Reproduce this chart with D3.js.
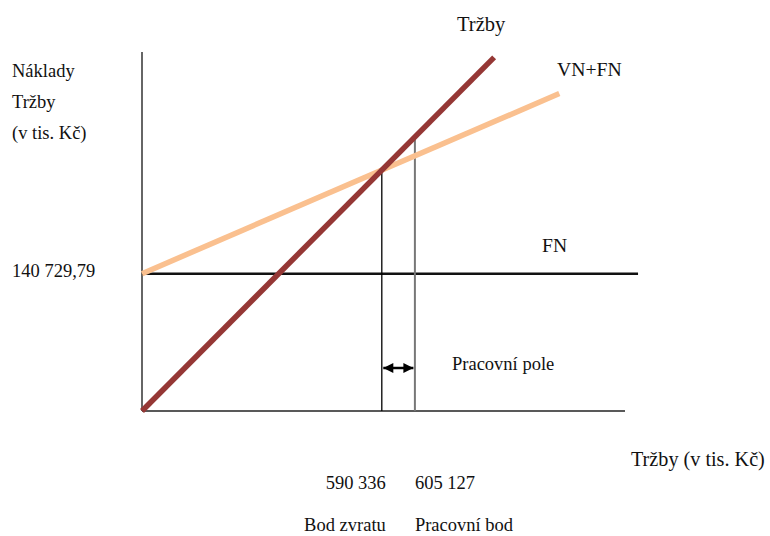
<!DOCTYPE html>
<html>
<head>
<meta charset="utf-8">
<script src="https://cdn.jsdelivr.net/npm/d3@7/dist/d3.min.js"></script>
<style>
  html, body { margin: 0; padding: 0; background: #fff; }
  svg text { font-family: "Liberation Serif", "Times New Roman", serif; font-size: 18.5px; fill: #111; }
</style>
</head>
<body>
<svg id="chart" width="770" height="536"></svg>
<script>
// Break-even diagram (schematic units: output volume on x, money on y)
const fixedCost = 28.3;          // FN level
const unitPrice = 1.0;           // sales per unit of volume
const unitVariableCost = 0.43;   // VN per unit of volume
const workingVolume = 56.5;      // working point (Pracovní bod)

// extents of the drawn lines (in volume units)
const salesExtent = [0, 72.9];
const totalCostExtent = [0, 86.4];
const fixedExtent = [0, 102.7];

// texts
const fixedCostLabel = "140 729,79";
const pointValueLabels = ["590 336", "605 127"];
const pointNameLabels = ["Bod zvratu", "Pracovní bod"];
const yAxisTitle = ["Náklady", "Tržby", "(v tis. Kč)"];
const xAxisTitle = "Tržby (v tis. Kč)";
const lineLabels = { sales: "Tržby", total: "VN+FN", fixed: "FN" };
const rangeLabel = "Pracovní pole";

const breakEven = fixedCost / (unitPrice - unitVariableCost);

const svg = d3.select("#chart");
const x = d3.scaleLinear().domain([0, 100]).range([142, 625]);
const y = d3.scaleLinear().domain([0, 74]).range([411, 52]);

const sales = v => unitPrice * v;
const totalCost = v => fixedCost + unitVariableCost * v;

const line = d3.line().x(d => x(d[0])).y(d => y(d[1]));

// axes
svg.append("line").attr("x1", x(0)).attr("x2", x(0)).attr("y1", y(74)).attr("y2", y(0))
  .attr("stroke", "#333").attr("stroke-width", 1.5);
svg.append("line").attr("x1", x(0)).attr("x2", x(100)).attr("y1", y(0)).attr("y2", y(0))
  .attr("stroke", "#222").attr("stroke-width", 1.5);

// fixed costs
svg.append("path").datum(fixedExtent.map(v => [v, fixedCost])).attr("d", line)
  .attr("stroke", "#111").attr("stroke-width", 2.5).attr("fill", "none");

// drop lines for break-even and working point
svg.append("line").attr("x1", x(breakEven)).attr("x2", x(breakEven))
  .attr("y1", y(sales(breakEven))).attr("y2", y(0))
  .attr("stroke", "#000").attr("stroke-width", 1.3);
svg.append("line").attr("x1", x(workingVolume)).attr("x2", x(workingVolume))
  .attr("y1", y(sales(workingVolume))).attr("y2", y(0))
  .attr("stroke", "#777").attr("stroke-width", 2);

// total cost line (VN+FN)
svg.append("path").datum(totalCostExtent.map(v => [v, totalCost(v)])).attr("d", line)
  .attr("stroke", "#FAC08F").attr("stroke-width", 5.5).attr("fill", "none");

// sales line
svg.append("path").datum(salesExtent.map(v => [v, sales(v)])).attr("d", line)
  .attr("stroke", "#953735").attr("stroke-width", 5.5).attr("fill", "none");

// double arrow over the working range
const defs = svg.append("defs");
defs.append("marker").attr("id", "arrowEnd").attr("viewBox", "0 0 10 10")
  .attr("refX", 10).attr("refY", 5).attr("markerWidth", 11).attr("markerHeight", 10)
  .attr("markerUnits", "userSpaceOnUse").attr("orient", "auto")
  .append("path").attr("d", "M0,0 L10,5 L0,10 Z").attr("fill", "#000");
defs.append("marker").attr("id", "arrowStart").attr("viewBox", "0 0 10 10")
  .attr("refX", 10).attr("refY", 5).attr("markerWidth", 11).attr("markerHeight", 10)
  .attr("markerUnits", "userSpaceOnUse").attr("orient", "auto-start-reverse")
  .append("path").attr("d", "M0,0 L10,5 L0,10 Z").attr("fill", "#000");
svg.append("line").attr("x1", x(breakEven) + 1.5).attr("x2", x(workingVolume) - 1.5)
  .attr("y1", 368).attr("y2", 368)
  .attr("stroke", "#000").attr("stroke-width", 2.5)
  .attr("marker-start", "url(#arrowStart)").attr("marker-end", "url(#arrowEnd)");

// texts
const text = (t, px, py, anchor = "start", size = null) => {
  const el = svg.append("text").attr("x", px).attr("y", py).attr("text-anchor", anchor).text(t);
  if (size) el.style("font-size", size + "px");
  return el;
};

yAxisTitle.forEach((t, i) => text(t, 12, 77 + i * 31));
text(fixedCostLabel, 12, 277);
text(xAxisTitle, 631, 466, "start", 20.2);
text(lineLabels.sales, 457, 31, "start", 20.5);
text(lineLabels.total, 557, 76, "start", 19.7);
text(lineLabels.fixed, 542, 252, "start", 19.6);
text(rangeLabel, 452, 370);

text(pointValueLabels[0], x(breakEven) + 4, 489, "end");
text(pointValueLabels[1], x(workingVolume), 489);
text(pointNameLabels[0], x(breakEven) + 4, 531, "end");
text(pointNameLabels[1], x(workingVolume), 531);
</script>
</body>
</html>
